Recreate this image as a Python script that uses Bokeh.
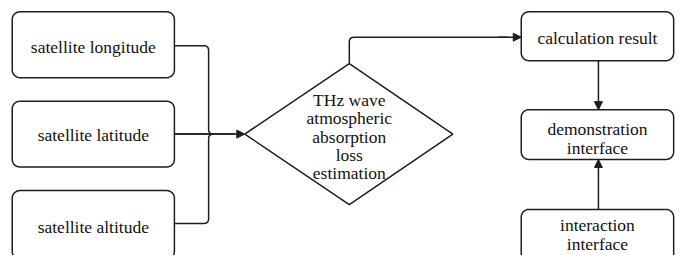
import numpy as np
from bokeh.plotting import figure
from bokeh.models import Range1d, Arrow, NormalHead
from bokeh.core.properties import value
from bokeh.embed import file_html
from bokeh.resources import INLINE

# ---- content ----
input_labels = ["satellite longitude", "satellite latitude", "satellite altitude"]
process_label = ["THz wave", "atmospheric", "absorption", "loss", "estimation"]
result_label = ["calculation result"]
demo_label = ["demonstration", "interface"]
interact_label = ["interaction", "interface"]

# ---- layout (reference-image pixel coordinates, mapped onto the canvas) ----
W, H = 680, 255
p = figure(width=W, height=H, output_backend="svg", toolbar_location=None,
           x_range=Range1d(0, 696), y_range=Range1d(271, 0), min_border=0)
p.axis.visible = False
p.grid.visible = False
p.outline_line_color = None
p.background_fill_color = "white"
p.border_fill_color = "white"

LC = "#1e1e1e"
LW = 1.5
FONT = value("Liberation Serif, Times New Roman, serif")
FS = "17.5px"


def rounded_rect(x0, x1, y0, y1, r=8, n=8):
    xs, ys = [], []
    corners = [(x1 - r, y0 + r, -90, 0), (x1 - r, y1 - r, 0, 90),
               (x0 + r, y1 - r, 90, 180), (x0 + r, y0 + r, 180, 270)]
    for cx, cy, a0, a1 in corners:
        for a in np.linspace(np.radians(a0), np.radians(a1), n):
            xs.append(cx + r * np.cos(a))
            ys.append(cy + r * np.sin(a))
    return xs, ys


def rounded_path(pts, r=5, n=6):
    xs, ys = [pts[0][0]], [pts[0][1]]
    for i in range(1, len(pts) - 1):
        p0, p1, p2 = np.array(pts[i - 1], float), np.array(pts[i], float), np.array(pts[i + 1], float)
        d0 = (p1 - p0) / np.linalg.norm(p1 - p0)
        d1 = (p2 - p1) / np.linalg.norm(p2 - p1)
        a = p1 - d0 * r
        b = p1 + d1 * r
        for t in np.linspace(0, 1, n):
            q = (1 - t) ** 2 * a + 2 * (1 - t) * t * p1 + t ** 2 * b
            xs.append(q[0]); ys.append(q[1])
    xs.append(pts[-1][0]); ys.append(pts[-1][1])
    return xs, ys


def box(x0, x1, y0, y1, lines, ty, dy=20):
    xs, ys = rounded_rect(x0, x1, y0, y1)
    p.patch(xs, ys, fill_color="white", line_color=LC, line_width=LW)
    cx = (x0 + x1) / 2
    yy = [ty + i * dy for i in range(len(lines))]
    p.text(x=[cx] * len(lines), y=yy, text=lines, text_font=FONT, text_font_size=FS,
           text_align="center", text_baseline="middle", text_color="#111111")


def arrow(x0, y0, x1, y1):
    p.add_layout(Arrow(end=NormalHead(size=8, fill_color=LC, line_color=LC, line_width=1),
                       x_start=x0, y_start=y0, x_end=x1, y_end=y1,
                       line_color=LC, line_width=LW))


# left input boxes
LX0, LX1 = 12, 178
left_rows = [(12, 82, 49), (107, 177, 143), (202, 275, 241)]
for lab, (y0, y1, ty) in zip(input_labels, left_rows):
    box(LX0, LX1, y0, y1, [lab], ty)

# connectors from inputs
BX = 213
JY = 142
xs, ys = rounded_path([(178, 48), (BX, 48), (BX, JY), (BX + 3, JY)], r=5)
p.line(xs, ys, line_color=LC, line_width=LW)
xs, ys = rounded_path([(178, 237), (BX, 237), (BX, JY), (BX + 3, JY)], r=5)
p.line(xs, ys, line_color=LC, line_width=LW)
p.line([178, 240], [JY, JY], line_color=LC, line_width=LW)
arrow(178, JY, 250, JY)

# diamond
DL, DR, DT, DB, DCX = 250, 463, 67, 217, 357
p.patch([DL, DCX, DR, DCX], [JY, DT, JY, DB], fill_color="white", line_color=LC, line_width=LW)
p.text(x=[DCX] * len(process_label), y=[106 + i * 19.3 for i in range(len(process_label))],
       text=process_label, text_font=FONT, text_font_size=FS,
       text_align="center", text_baseline="middle", text_color="#111111")

# right boxes
RX0, RX1 = 533, 689
RCX = 612
box(RX0, RX1, 12, 64, result_label, 40)
box(RX0, RX1, 116, 169, demo_label, 137)
box(RX0, RX1, 222, 278, interact_label, 239)

# diamond top -> calculation result
xs, ys = rounded_path([(DCX, DT), (DCX, 39), (520, 39)], r=5)
p.line(xs, ys, line_color=LC, line_width=LW)
arrow(510, 39, RX0, 39)

# calculation -> demonstration, interaction -> demonstration
arrow(RCX, 64, RCX, 116)
arrow(RCX, 222, RCX, 169)

open("out.html", "w").write(file_html(p, INLINE))
